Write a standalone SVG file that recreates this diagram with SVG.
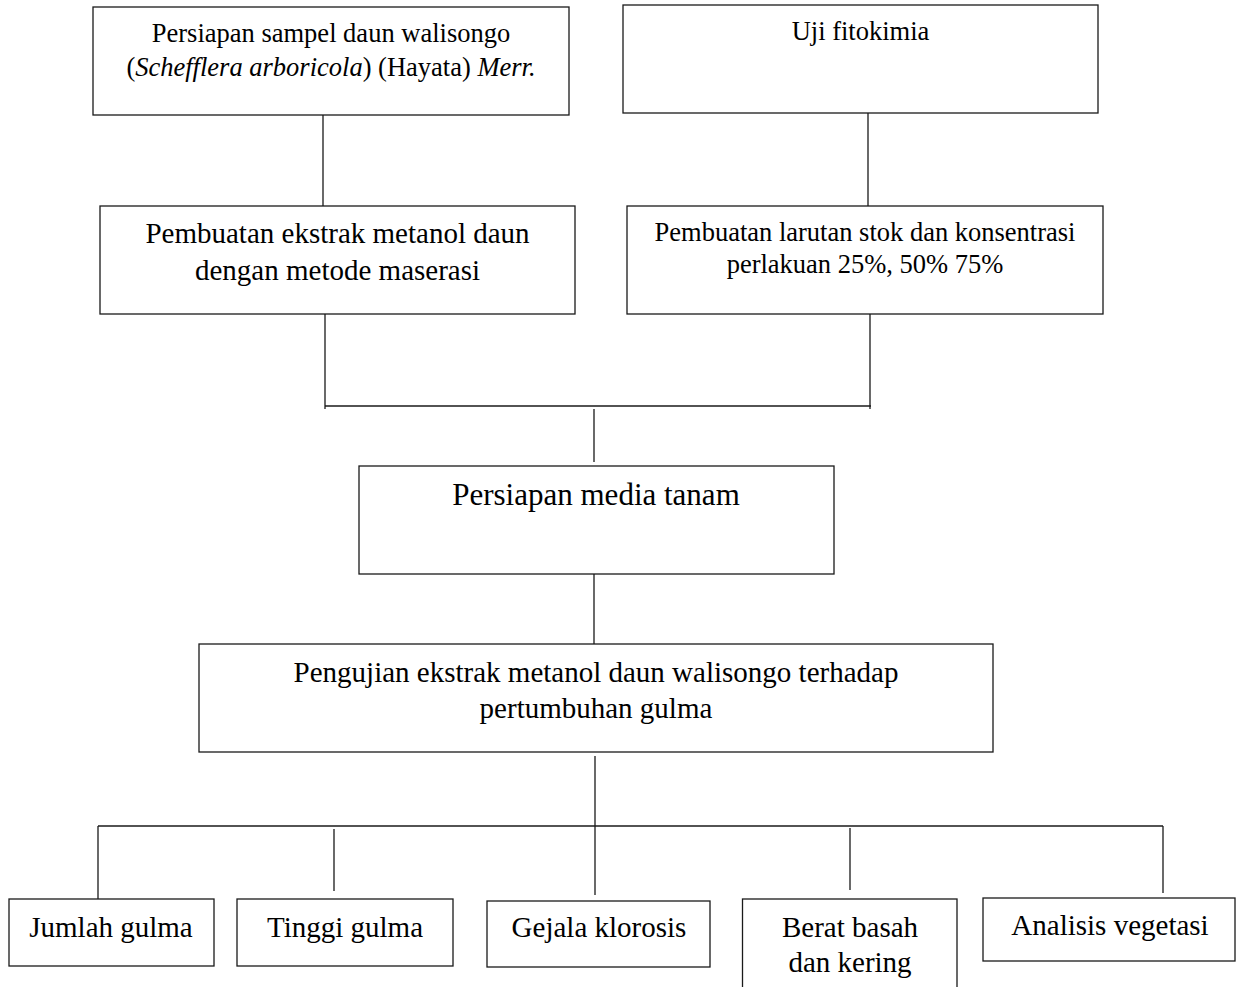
<svg xmlns="http://www.w3.org/2000/svg" width="1236" height="987" viewBox="0 0 1236 987">
<style>
.box{fill:#fff;stroke:#1a1a1a;stroke-width:1.3}
.ln{stroke:#1a1a1a;stroke-width:1.3;fill:none}
text{font-family:"Liberation Serif","Times New Roman",serif;fill:#000;text-anchor:middle}
.s{font-size:26.5px}
.m{font-size:29px}
.l{font-size:31px}
</style>
<rect width="1236" height="987" fill="#fff"/>
<g id="connectors">
<line class="ln" x1="323" y1="115" x2="323" y2="206"/>
<line class="ln" x1="868" y1="113" x2="868" y2="206"/>
<line class="ln" x1="325" y1="314" x2="325" y2="409"/>
<line class="ln" x1="870" y1="314" x2="870" y2="409"/>
<line class="ln" x1="325" y1="406" x2="871" y2="406"/>
<line class="ln" x1="594" y1="409" x2="594" y2="462"/>
<line class="ln" x1="594" y1="570" x2="594" y2="644"/>
<line class="ln" x1="595" y1="756" x2="595" y2="895"/>
<line class="ln" x1="98" y1="826" x2="1163" y2="826"/>
<line class="ln" x1="98" y1="826" x2="98" y2="900"/>
<line class="ln" x1="334" y1="829" x2="334" y2="891"/>
<line class="ln" x1="850" y1="828" x2="850" y2="890"/>
<line class="ln" x1="1163" y1="826" x2="1163" y2="893"/>
</g>
<g id="n1">
<rect class="box" x="93" y="7" width="476" height="108"/>
<text class="s" x="331" y="42">Persiapan sampel daun walisongo</text>
<text class="s" x="331" y="76">(<tspan font-style="italic">Schefflera arboricola</tspan>) (Hayata) <tspan font-style="italic">Merr.</tspan></text>
</g>
<g id="n2">
<rect class="box" x="623" y="5" width="475" height="108"/>
<text class="s" x="860.5" y="40">Uji fitokimia</text>
</g>
<g id="n3">
<rect class="box" x="100" y="206" width="475" height="108"/>
<text class="m" x="337.5" y="243">Pembuatan ekstrak metanol daun</text>
<text class="m" x="337.5" y="280">dengan metode maserasi</text>
</g>
<g id="n4">
<rect class="box" x="627" y="206" width="476" height="108"/>
<text class="s" x="865" y="241">Pembuatan larutan stok dan konsentrasi</text>
<text class="s" x="865" y="273">perlakuan 25%, 50% 75%</text>
</g>
<g id="n5">
<rect class="box" x="359" y="466" width="475" height="108"/>
<text class="l" x="596" y="505">Persiapan media tanam</text>
</g>
<g id="n6">
<rect class="box" x="199" y="644" width="794" height="108"/>
<text class="m" x="596" y="682">Pengujian ekstrak metanol daun walisongo terhadap</text>
<text class="m" x="596" y="718">pertumbuhan gulma</text>
</g>
<g id="n7">
<rect class="box" x="9" y="899" width="205" height="67"/>
<text class="m" x="111" y="937">Jumlah gulma</text>
</g>
<g id="n8">
<rect class="box" x="237" y="899" width="216" height="67"/>
<text class="m" x="345" y="937">Tinggi gulma</text>
</g>
<g id="n9">
<rect class="box" x="487" y="901" width="223" height="66"/>
<text class="m" x="599" y="937">Gejala klorosis</text>
</g>
<g id="n10">
<rect class="box" x="742.5" y="899" width="214.5" height="100"/>
<text class="m" x="850" y="937">Berat basah</text>
<text class="m" x="850" y="972">dan kering</text>
</g>
<g id="n11">
<rect class="box" x="983" y="898" width="252" height="63"/>
<text class="m" x="1110" y="935">Analisis vegetasi</text>
</g>
</svg>
